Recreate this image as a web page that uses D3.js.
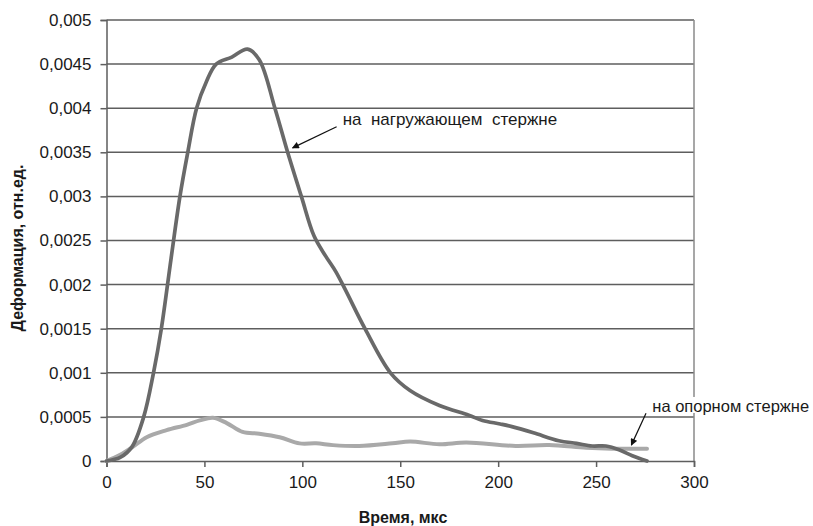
<!DOCTYPE html>
<html><head><meta charset="utf-8">
<script src="https://cdn.jsdelivr.net/npm/d3@7"></script>
<style>
body{margin:0;background:#fff;}
text{font-family:"Liberation Sans",Arial,sans-serif;fill:#1a1a1a;}
</style></head>
<body>
<svg id="c" width="813" height="526"></svg>
<script>
// Data
const loadedTime = [0, 7, 13, 19, 24, 28, 33, 37.5, 41.5, 46, 51, 56, 64, 72, 78, 86, 92.5, 99.5, 106, 112, 117, 122, 132, 145, 155, 170, 185, 192, 201, 207, 218, 231, 240, 248, 255, 262, 268.5, 276];
const loadedValue = [0, 0.00004, 0.00016, 0.0005, 0.001, 0.0015, 0.0023, 0.003, 0.0035, 0.004, 0.0043, 0.0045, 0.00458, 0.00467, 0.00455, 0.004, 0.0035, 0.003, 0.00255, 0.00232, 0.00215, 0.00194, 0.0015, 0.001, 0.0008, 0.00063, 0.00052, 0.00046, 0.00042, 0.00039, 0.00032, 0.00023, 0.0002, 0.00017, 0.00017, 0.000125, 0.00006, 0];
const supportTime = [0, 7, 13.4, 20.5, 30.7, 41, 47.6, 54.4, 61.4, 69.5, 78, 88.4, 98.6, 107, 115.6, 129, 146, 155, 170, 183.7, 209, 226, 245, 258, 276];
const supportValue = [0, 0.00007, 0.00016, 0.00027, 0.00035, 0.00041, 0.00046, 0.00049, 0.00043, 0.00033, 0.00031, 0.00027, 0.0002, 0.0002, 0.00018, 0.00017, 0.0002, 0.00022, 0.00019, 0.00021, 0.00017, 0.00018, 0.00015, 0.00014, 0.00014];
const xTicks = [0, 50, 100, 150, 200, 250, 300];
const yTicks = [0, 0.0005, 0.001, 0.0015, 0.002, 0.0025, 0.003, 0.0035, 0.004, 0.0045, 0.005];
const yTickLabels = ["0", "0,0005", "0,001", "0,0015", "0,002", "0,0025", "0,003", "0,0035", "0,004", "0,0045", "0,005"];
const xTitle = "Время, мкс";
const yTitle = "Деформация, отн.ед.";
const annotations = [
  {text: "на  нагружающем  стержне", size: 17, tx: 120.6, ty: 0.00381, ax0: 117.5, ay0: 0.00379, ax1: 95, ay1: 0.00355},
  {text: "на опорном стержне", size: 16.5, tx: 278.7, ty: 0.000556, ax0: 275.5, ay0: 0.00054, ax1: 268, ay1: 0.00018}
];

const svg = d3.select("#c");
const x = d3.scaleLinear().domain([0, 300]).range([106.5, 694]);
const y = d3.scaleLinear().domain([0, 0.005]).range([461, 20]);
const gridColor = "#5e5e5e";

// gridlines
svg.append("g").selectAll("line").data(yTicks.slice(1)).join("line")
  .attr("x1", x(0)).attr("x2", x(300))
  .attr("y1", d => y(d)).attr("y2", d => y(d))
  .attr("stroke", gridColor).attr("stroke-width", 1.5);

// right border
svg.append("line").attr("x1", x(300)).attr("x2", x(300)).attr("y1", y(0.005)).attr("y2", y(0))
  .attr("stroke", "#8a8a8a").attr("stroke-width", 1.5);

// axes
const yAxis = d3.axisLeft(y).tickValues(yTicks).tickFormat((d, i) => yTickLabels[i]).tickSize(6).tickPadding(9);
const gy = svg.append("g").attr("transform", `translate(${x(0)},0)`).call(yAxis);
const xAxis = d3.axisBottom(x).tickValues(xTicks).tickSize(6).tickPadding(9);
const gx = svg.append("g").attr("transform", `translate(0,${y(0)})`).call(xAxis);
[gx, gy].forEach(g => {
  g.select(".domain").attr("stroke", gridColor).attr("stroke-width", 1.5);
  g.selectAll(".tick line").attr("stroke", gridColor).attr("stroke-width", 1.5);
  g.selectAll(".tick text").style("font-family", '"Liberation Sans",Arial,sans-serif').style("font-size", "17px").attr("fill", "#1a1a1a");
});

// lines
const line = d3.line().x(d => x(d[0])).y(d => y(d[1])).curve(d3.curveCatmullRom.alpha(0.5));
const supportData = supportTime.map((t, i) => [t, supportValue[i]]);
const loadedData = loadedTime.map((t, i) => [t, loadedValue[i]]);
svg.append("path").datum(supportData).attr("d", line)
  .attr("fill", "none").attr("stroke", "#a9a9a9").attr("stroke-width", 4).attr("stroke-linecap", "round");
svg.append("path").datum(loadedData).attr("d", line)
  .attr("fill", "none").attr("stroke", "#696969").attr("stroke-width", 3.7).attr("stroke-linecap", "round");

// arrow marker
svg.append("defs").append("marker").attr("id", "ah")
  .attr("viewBox", "0 0 10 10").attr("refX", 9).attr("refY", 5)
  .attr("markerWidth", 9).attr("markerHeight", 7).attr("markerUnits", "userSpaceOnUse").attr("orient", "auto")
  .append("path").attr("d", "M0,0 L10,5 L0,10 z").attr("fill", "#111");

// annotations
annotations.forEach((a, i) => {
  const g = svg.append("g");
  const t = g.append("text").attr("x", x(a.tx)).attr("y", y(a.ty))
    .style("font-size", a.size + "px").style("white-space", "pre").text(a.text);
  if (i === 1) {
    const bb = t.node().getBBox();
    g.insert("rect", "text").attr("x", bb.x - 2).attr("y", bb.y).attr("width", bb.width + 4).attr("height", bb.height - 2).attr("fill", "#fff");
  }
  g.append("line").attr("x1", x(a.ax0)).attr("y1", y(a.ay0)).attr("x2", x(a.ax1)).attr("y2", y(a.ay1))
    .attr("stroke", "#111").attr("stroke-width", 1.2).attr("marker-end", "url(#ah)");
});

// titles
svg.append("text").attr("x", 403).attr("y", 523).attr("text-anchor", "middle")
  .style("font-size", "16px").style("font-weight", "bold").text(xTitle);
svg.append("text").attr("transform", "translate(23,248) rotate(-90)").attr("text-anchor", "middle")
  .style("font-size", "16px").style("font-weight", "bold").text(yTitle);
</script>
</body></html>
